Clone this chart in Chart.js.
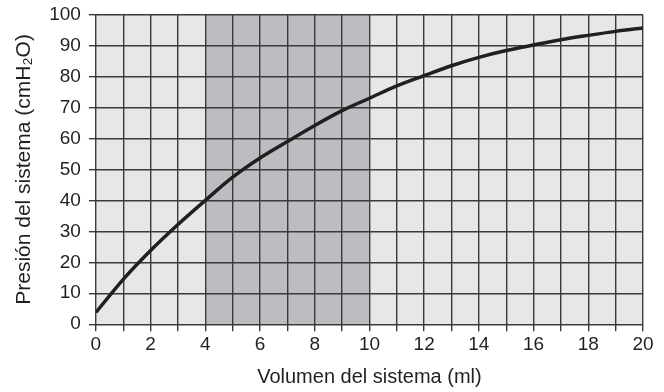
<!DOCTYPE html>
<html>
<head>
<meta charset="utf-8">
<script src="https://cdn.jsdelivr.net/npm/chart.js@4/dist/chart.umd.min.js"></script>
<style>
html,body{margin:0;padding:0;background:#fff;}
#wrap{width:664px;height:392px;}
</style>
</head>
<body>
<div id="wrap"><canvas id="c" width="664" height="392"></canvas></div>
<script>
const volumes = [0,1,2,3,4,5,6,7,8,9,10,11,12,13,14,15,16,17,18,19,20];
const pressures = [3.8,14.5,23.8,32.2,40,47.5,53.7,59,64.2,69,73,77,80.3,83.5,86.2,88.4,90.2,91.9,93.3,94.6,95.7];
const shadedRange = [4, 10];
const xLabels = [0,2,4,6,8,10,12,14,16,18,20];
const yLabels = [0,10,20,30,40,50,60,70,80,90,100];
const xTitle = 'Volumen del sistema (ml)';
const yTitle = 'Presión del sistema (cmH₂O)';

const bgPlugin = {
  id: 'bg',
  beforeDraw(chart) {
    const {ctx, chartArea: a, scales: {x}} = chart;
    ctx.save();
    ctx.fillStyle = '#e6e7e8';
    ctx.fillRect(a.left, a.top, a.right - a.left, a.bottom - a.top);
    const x0 = x.getPixelForValue(shadedRange[0]);
    const x1 = x.getPixelForValue(shadedRange[1]);
    ctx.fillStyle = '#bcbdc0';
    ctx.fillRect(x0, a.top, x1 - x0, a.bottom - a.top);
    ctx.restore();
  }
};

const fam = '"Liberation Sans", Arial, sans-serif';
new Chart(document.getElementById('c'), {
  type: 'line',
  data: {
    datasets: [{
      data: volumes.map((v, i) => ({x: v, y: pressures[i]})),
      borderColor: '#231f20',
      borderWidth: 3.5,
      pointRadius: 0,
      cubicInterpolationMode: 'monotone',
      fill: false
    }]
  },
  options: {
    responsive: false,
    animation: false,
    layout: {padding: {left: 4, right: 21, top: 0, bottom: 0}},
    plugins: {legend: {display: false}, tooltip: {enabled: false}},
    scales: {
      x: {
        type: 'linear', min: 0, max: 20,
        grid: {color: '#3a3a3a', lineWidth: 1.4, tickLength: 7, drawTicks: true},
        border: {display: false},
        ticks: {
          stepSize: 1, autoSkip: false, maxRotation: 0, color: '#231f20', font: {family: fam, size: 19}, padding: 2,
          callback: v => xLabels.includes(v) ? String(v) : ''
        },
        title: {display: true, text: xTitle, color: '#231f20', font: {family: fam, size: 20}, padding: {top: 7, bottom: 3}}
      },
      y: {
        type: 'linear', min: 0, max: 100,
        grid: {color: '#3a3a3a', lineWidth: 1.4, tickLength: 7},
        border: {display: false},
        ticks: {
          stepSize: 10, color: '#231f20', font: {family: fam, size: 19, lineHeight: 0.7}, padding: 8,
          callback: v => yLabels.includes(v) ? String(v) : ''
        },
        title: {display: true, text: yTitle, color: '#231f20', font: {family: fam, size: 21}, padding: {top: 8, bottom: 4}}
      }
    }
  },
  plugins: [bgPlugin]
});
</script>
</body>
</html>
